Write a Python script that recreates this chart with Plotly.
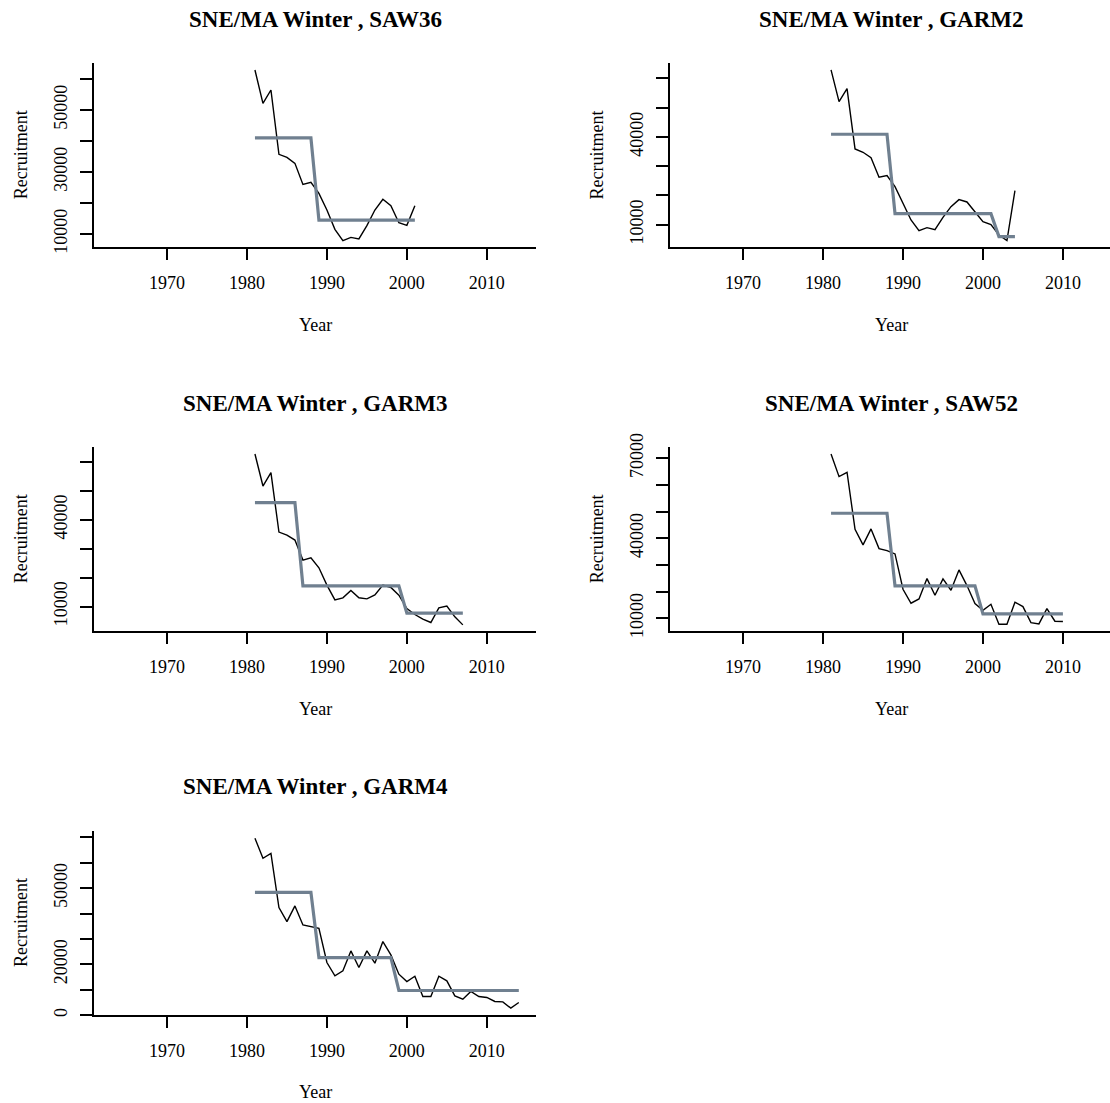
import plotly.graph_objects as go

W, H = 1110, 1103
FONT = "Liberation Serif"
REGIME_COLOR = "#708090"

# ---- data -------------------------------------------------------------
stock = "SNE/MA Winter"
runs = ["SAW36", "GARM2", "GARM3", "SAW52", "GARM4"]

saw36_years = list(range(1981, 2002))
saw36_recruit = [62900, 52150, 56450, 35700, 34730, 32800, 26000, 26670, 23100,
                 17740, 11500, 7850, 8900, 8400, 12700, 17740, 21200, 19140,
                 13650, 12800, 19140]
saw36_regimes = [(1981, 1988, 41000), (1989, 2001, 14500)]

garm2_years = list(range(1981, 2005))
garm2_recruit = [62850, 52030, 56470, 35850, 34720, 32890, 26170, 26740, 22980,
                 17290, 11600, 7950, 8970, 8290, 12500, 16150, 18540, 17740,
                 14560, 11030, 10000, 6470, 4530, 21620]
garm2_regimes = [(1981, 1988, 40870), (1989, 2001, 13760), (2002, 2004, 5900)]

garm3_years = list(range(1981, 2008))
garm3_recruit = [62650, 51590, 56200, 35690, 34650, 32930, 26010, 26820, 23360,
                 17370, 12300, 13000, 15530, 13000, 12650, 14030, 17370, 16570,
                 13920, 9310, 7240, 5620, 4470, 9540, 10120, 6430, 3660]
garm3_regimes = [(1981, 1986, 45830), (1987, 1999, 17140), (2000, 2007, 7700)]

saw52_years = list(range(1981, 2011))
saw52_recruit = [71625, 63125, 64750, 43375, 37500, 43500, 36125, 35375, 34125,
                 20875, 15625, 17250, 24875, 18625, 24750, 20500, 28125, 22250,
                 15500, 13000, 15250, 7750, 7750, 16000, 14375, 8375, 7875,
                 13625, 8875, 8750]
saw52_regimes = [(1981, 1988, 49375), (1989, 1999, 22125), (2000, 2010, 11625)]

garm4_years = list(range(1981, 2015))
garm4_recruit = [69600, 61730, 63700, 42330, 36830, 42990, 35520, 34730, 34210,
                 20710, 15470, 17430, 25290, 18740, 25290, 20450, 28960, 23720,
                 16120, 13240, 15330, 7340, 7340, 15330, 13500, 7600, 6290,
                 9310, 7340, 6950, 5370, 5240, 2750, 4980]
garm4_regimes = [(1981, 1988, 48360), (1989, 1998, 22670), (1999, 2014, 9700)]

year_ticks = [1970, 1980, 1990, 2000, 2010]

saw36_yticks = [10000, 20000, 30000, 40000, 50000, 60000]
saw36_ylabels = ["10000", "", "30000", "", "50000", ""]
garm2_yticks = [10000, 20000, 30000, 40000, 50000, 60000]
garm2_ylabels = ["10000", "", "", "40000", "", ""]
garm3_yticks = [10000, 20000, 30000, 40000, 50000, 60000]
garm3_ylabels = ["10000", "", "", "40000", "", ""]
saw52_yticks = [10000, 20000, 30000, 40000, 50000, 60000, 70000]
saw52_ylabels = ["10000", "", "", "40000", "", "", "70000"]
garm4_yticks = [0, 10000, 20000, 30000, 40000, 50000, 60000, 70000]
garm4_ylabels = ["0", "", "20000", "", "", "50000", "", ""]

# ---- layout geometry (pixels) ----------------------------------------
# plot regions; the right column runs off the page edge
cols = [(94.0, 536.0), (670.1, 1112.1)]
rows = [(63.3, 247.3), (447.3, 631.2), (830.7, 1015.3)]
x_ranges = [[1960.87, 2016.15], [1960.87, 2015.89]]
y_ranges = [[5710, 65065], [2255, 65115], [1473, 64960], [5137, 74118], [-60, 72600]]

panels = [
    (saw36_years, saw36_recruit, saw36_regimes, saw36_yticks, saw36_ylabels),
    (garm2_years, garm2_recruit, garm2_regimes, garm2_yticks, garm2_ylabels),
    (garm3_years, garm3_recruit, garm3_regimes, garm3_yticks, garm3_ylabels),
    (saw52_years, saw52_recruit, saw52_regimes, saw52_yticks, saw52_ylabels),
    (garm4_years, garm4_recruit, garm4_regimes, garm4_yticks, garm4_ylabels),
]


def px_x(v):
    return min(v / W, 1.0)


def px_y(v):
    return 1 - v / H


def regime_series(years, regimes):
    out = []
    for yr in years:
        for start, end, level in regimes:
            if start <= yr <= end:
                out.append(level)
                break
    return out


fig = go.Figure()
annotations = []
layout_axes = {}

for i, (years, recruit, regimes, yticks, ylabels) in enumerate(panels):
    r, c = divmod(i, 2)
    x0, x1 = cols[c]
    top, bot = rows[r]
    n = "" if i == 0 else str(i + 1)
    xa, ya = "x" + n, "y" + n

    fig.add_trace(go.Scatter(x=years, y=recruit, mode="lines",
                             line=dict(color="black", width=1.4),
                             xaxis=xa, yaxis=ya, showlegend=False,
                             hoverinfo="skip"))
    fig.add_trace(go.Scatter(x=years, y=regime_series(years, regimes),
                             mode="lines",
                             line=dict(color=REGIME_COLOR, width=3.2),
                             xaxis=xa, yaxis=ya, showlegend=False,
                             hoverinfo="skip"))

    common = dict(showline=True, linecolor="black", linewidth=1.5,
                  ticks="outside", tickcolor="black", tickwidth=1.5,
                  showgrid=False, zeroline=False, automargin=False,
                  tickfont=dict(family=FONT, size=18, color="black"))
    layout_axes["xaxis" + n] = dict(
        domain=[px_x(x0), px_x(x1)], range=x_ranges[c], anchor=ya,
        tickvals=year_ticks, ticktext=[str(t) for t in year_ticks],
        ticklen=11, ticklabelstandoff=7, **common)
    layout_axes["yaxis" + n] = dict(
        domain=[px_y(bot), px_y(top)], range=y_ranges[i], anchor=xa,
        tickvals=yticks, ticktext=ylabels, tickangle=-90,
        ticklen=12, ticklabelstandoff=6, **common)

    cx = (x0 + x1) / 2
    dy = top - rows[0][0]
    annotations.append(dict(
        text=f"<b>{stock} , {runs[i]}</b>", x=px_x(cx), y=px_y(19.5 + dy),
        xref="paper", yref="paper", showarrow=False, xanchor="center",
        yanchor="middle", font=dict(family=FONT, size=23, color="black")))
    annotations.append(dict(
        text="Year", x=px_x(cx), y=px_y(325 + dy),
        xref="paper", yref="paper", showarrow=False, xanchor="center",
        yanchor="middle", font=dict(family=FONT, size=18, color="black")))
    annotations.append(dict(
        text="Recruitment", x=px_x(x0 - 73), y=px_y((top + bot) / 2),
        xref="paper", yref="paper", showarrow=False, xanchor="center",
        yanchor="middle", textangle=-90,
        font=dict(family=FONT, size=18, color="black")))

fig.update_layout(
    width=W, height=H, margin=dict(l=0, r=0, t=0, b=0),
    paper_bgcolor="white", plot_bgcolor="white",
    annotations=annotations, **layout_axes)

fig.write_html("out.html")
